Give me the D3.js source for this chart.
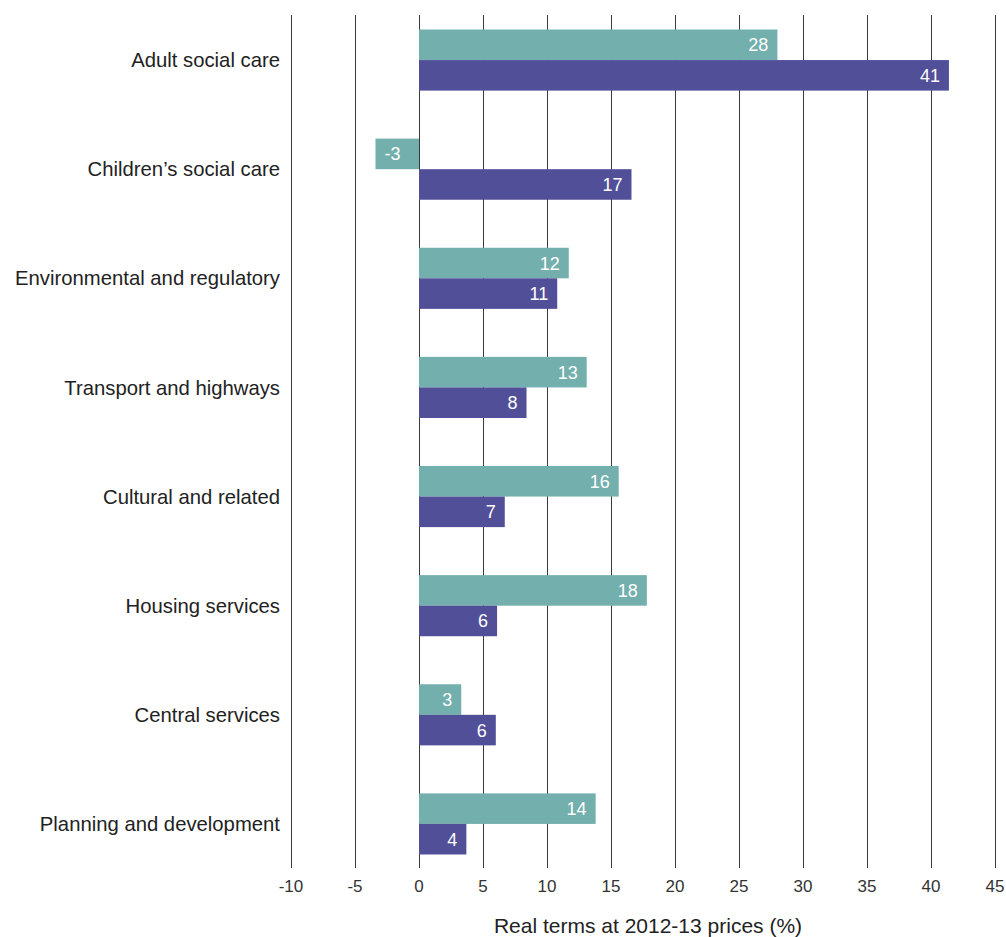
<!DOCTYPE html>
<html>
<head>
<meta charset="utf-8">
<script src="https://cdn.jsdelivr.net/npm/d3@7/dist/d3.min.js"></script>
<style>
  html, body { margin: 0; padding: 0; background: #fff; }
  svg { display: block; font-family: "Liberation Sans", Arial, sans-serif; }
</style>
</head>
<body>
<svg id="chart" width="1006" height="937"></svg>
<script>
// Service areas, top to bottom
const categories = [
  "Adult social care",
  "Children\u2019s social care",
  "Environmental and regulatory",
  "Transport and highways",
  "Cultural and related",
  "Housing services",
  "Central services",
  "Planning and development"
];
// First series (teal) and second series (purple), % change in real terms
const seriesA = [28.0, -3.4, 11.7, 13.1, 15.6, 17.8, 3.3, 13.8];
const seriesB = [41.4, 16.6, 10.8, 8.4, 6.7, 6.1, 6.0, 3.7];
const xTicks = [-10, -5, 0, 5, 10, 15, 20, 25, 30, 35, 40, 45];
const xTitle = "Real terms at 2012-13 prices (%)";

const colors = ["#72afad", "#524f99"];

const svg = d3.select("#chart");

const x = d3.scaleLinear().domain([-10, 45]).range([291, 995]);
const y = d3.scaleBand().domain(categories).range([5.5, 878.5]).paddingInner(0.44).paddingOuter(0.22);
const sub = d3.scaleBand().domain([0, 1]).range([0, y.bandwidth()]);

// Vertical gridlines
svg.append("g")
  .selectAll("line")
  .data(xTicks)
  .join("line")
  .attr("x1", d => Math.round(x(d)) + 0.5)
  .attr("x2", d => Math.round(x(d)) + 0.5)
  .attr("y1", 15)
  .attr("y2", 868)
  .attr("stroke", "#3a3a3a")
  .attr("stroke-width", 1);

// Tick labels
svg.append("g")
  .selectAll("text")
  .data(xTicks)
  .join("text")
  .attr("x", d => x(d))
  .attr("y", 892)
  .attr("text-anchor", "middle")
  .attr("font-size", 17)
  .attr("fill", "#333")
  .text(d => d);

// Axis title
svg.append("text")
  .attr("x", 648)
  .attr("y", 933)
  .attr("text-anchor", "middle")
  .attr("font-size", 21)
  .attr("fill", "#222")
  .text(xTitle);

// Category labels
svg.append("g")
  .selectAll("text")
  .data(categories)
  .join("text")
  .attr("x", 280)
  .attr("y", d => y(d) + y.bandwidth() / 2)
  .attr("dy", "0.35em")
  .attr("text-anchor", "end")
  .attr("font-size", 20.3)
  .attr("fill", "#222")
  .text(d => d);

// Bars and value labels
const rows = [];
categories.forEach((c, i) => {
  rows.push({ cat: c, s: 0, v: seriesA[i] });
  rows.push({ cat: c, s: 1, v: seriesB[i] });
});

const fmt = v => String(Math.round(v));

const g = svg.append("g");
g.selectAll("rect")
  .data(rows)
  .join("rect")
  .attr("x", d => x(Math.min(0, d.v)))
  .attr("width", d => Math.abs(x(d.v) - x(0)))
  .attr("y", d => y(d.cat) + sub(d.s))
  .attr("height", sub.bandwidth())
  .attr("fill", d => colors[d.s]);

g.selectAll("text")
  .data(rows)
  .join("text")
  .attr("x", d => d.v >= 0 ? x(d.v) - 9 : x(d.v) + 9)
  .attr("y", d => y(d.cat) + sub(d.s) + sub.bandwidth() / 2)
  .attr("dy", "0.36em")
  .attr("text-anchor", d => d.v >= 0 ? "end" : "start")
  .attr("font-size", 18)
  .attr("fill", "#fff")
  .text(d => fmt(d.v));
</script>
</body>
</html>
